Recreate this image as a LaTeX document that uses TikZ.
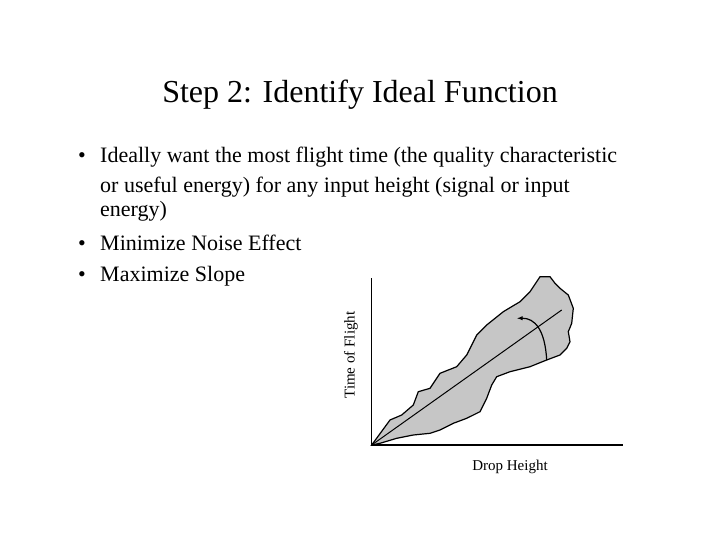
\documentclass[tikz,border=0pt]{standalone}
\usepackage{fontspec}
\usetikzlibrary{arrows.meta}
\setmainfont{Liberation Serif}
\begin{document}
\begin{tikzpicture}[x=1pt,y=-1pt,
  body/.style={anchor=base west,font=\fontsize{22}{24}\selectfont,inner sep=0},
  lab/.style={font=\fontsize{15}{17}\selectfont,inner sep=0}]
\useasboundingbox (0,0) rectangle (720,540);
\node[inner sep=0,font=\fontsize{32}{36}\selectfont] (title) at (360,95) {Step 2: Identify Ideal Function};
\node[body] (b1) at (78,163) {•};
\node[body] (l1) at (100,163) {Ideally want the most flight time (the quality characteristic};
\node[body] (l2) at (100,193) {or useful energy) for any input height (signal or input};
\node[body] (l3) at (100,217) {energy)};
\node[body] (b2) at (78,250) {•};
\node[body] (l4) at (100,250) {Minimize Noise Effect};
\node[body] (b3) at (78,281) {•};
\node[body] (l5) at (100,281) {Maximize Slope};
\fill[gray!45,draw=black,line width=1.2pt]
 (371.7,445) -- (390,420) -- (401.7,415) -- (413.3,405) -- (418.3,391.7) -- (430,388.3) -- (440,373.3)
 -- (456.7,366.7) -- (466.7,355) -- (476.7,335) -- (486.7,325) -- (503.3,311.7) -- (520,301.7)
 -- (530,291.7) -- (540,276.7) -- (550,276.7) -- (555,283.3) -- (560,288.3) -- (568.3,295)
 -- (573.3,308.3) -- (571.7,323.3) -- (568.3,331.7) -- (570,341.7) -- (566.7,348.3) -- (560,355)
 -- (546.7,360) -- (530,366.7) -- (510,371.7) -- (496.7,376.7) -- (491.7,385) -- (486.7,398.3)
 -- (480,411.7) -- (466.7,418.3) -- (453.3,423.3) -- (440,430) -- (430,433.3) -- (413.3,435)
 -- (396.7,438.3) -- (380,443.3) -- cycle;
\coordinate (o) at (371.7,445);
\coordinate (ytop) at (371.7,278);
\coordinate (xend) at (623,445);
\coordinate (lend) at (561.7,310);
\draw[line width=1.5pt] (ytop) -- (o) -- (xend);
\draw[line width=1pt] (o) -- (lend);
\coordinate (a1) at (546.7,360);
\coordinate (a2) at (516.7,318.3);
\draw[line width=1.2pt,-{Latex[length=6pt]}] (a1) .. controls (545,330) and (535,318) .. (a2);
\node[lab,rotate=90] (yl) at (351,355) {Time of Flight};
\node[lab] (xl) at (510,467) {Drop Height};
\end{tikzpicture}
\end{document}
